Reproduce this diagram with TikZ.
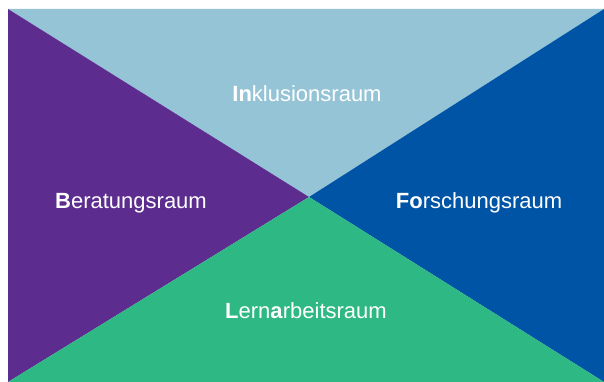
\documentclass[tikz,border=0pt]{standalone}
\usepackage{fontspec}
\setmainfont{Liberation Sans}
\usetikzlibrary{positioning, calc}

\definecolor{inklblue}{HTML}{95C4D6}
\definecolor{beratpurple}{HTML}{5C2D8E}
\definecolor{forschblue}{HTML}{0054A6}
\definecolor{lerngreen}{HTML}{2EB884}

\tikzset{
  raumlabel/.style = {text = white, anchor = base, inner sep = 0pt,
                      font = \fontsize{22}{26}\selectfont}
}

\begin{document}
\begin{tikzpicture}[x=1pt, y=1pt]
            \useasboundingbox (0,0) rectangle (604,382);
            \coordinate (tl) at (8,373);
            \coordinate (tr) at (604,373);
            \coordinate (bl) at (8,0);
            \coordinate (br) at (604,0);
            \coordinate (mid) at (309,185);
            \fill[inklblue] (tl) -- (tr) -- (mid) -- cycle;
            \fill[beratpurple] (tl) -- (mid) -- (bl) -- cycle;
            \fill[forschblue] (tr) -- (br) -- (mid) -- cycle;
            \fill[lerngreen] (bl) -- (mid) -- (br) -- cycle;
            \node[raumlabel] (inkl) at (307,280) {\textbf{In}klusionsraum};
            \node[raumlabel] (berat) at (131,173) {\textbf{B}eratungsraum};
            \node[raumlabel] (forsch) at (479,173) {\textbf{Fo}rschungsraum};
            \node[raumlabel] (lern) at (306,63) {\textbf{L}ern\textbf{a}rbeitsraum};
        \end{tikzpicture}
\end{document}
